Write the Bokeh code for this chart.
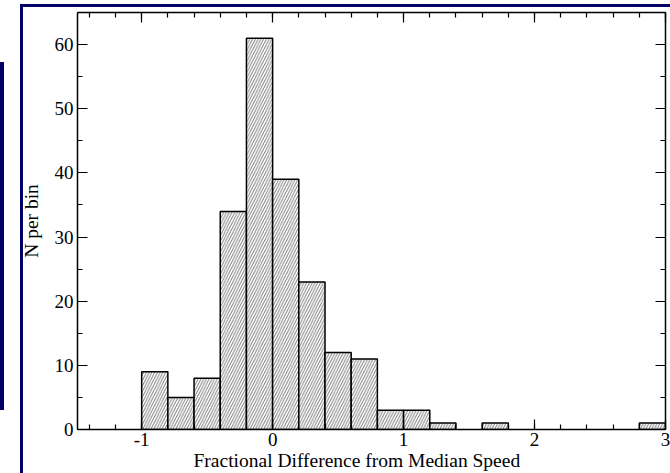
from bokeh.plotting import figure
from bokeh.models import FixedTicker, LinearAxis, Range1d, Title
from bokeh.embed import file_html
from bokeh.resources import INLINE

bin_left = [-1.0, -0.8, -0.6, -0.4, -0.2, 0.0, 0.2, 0.4, 0.6, 0.8, 1.0, 1.2, 1.6, 2.8]
counts = [9, 5, 8, 34, 61, 39, 23, 12, 11, 3, 3, 1, 1, 1]
bin_width = 0.2
x_ticks = [-1, 0, 1, 2, 3]
y_ticks = [0, 10, 20, 30, 40, 50, 60]
x_label = "Fractional Difference from Median Speed"
y_label = "N per bin"

FONT = "Liberation Serif"
NAVY = "#000066"

p = figure(width=670, height=473, output_backend="svg", toolbar_location=None,
           x_range=Range1d(-1.49, 3.0), y_range=Range1d(0, 65),
           min_border_left=77, min_border_right=5, min_border_top=12, min_border_bottom=44)
p.xaxis.visible = False
p.yaxis.visible = False
p.grid.visible = False
p.outline_line_color = None
p.background_fill_color = "white"
p.border_fill_alpha = 0
g = "linear-gradient(%s,%s)" % (NAVY, NAVY)
p.styles = {
    "background": (g + " 0px 62px / 4px 348px no-repeat, "
                   + g + " 20px 4px / 3px 469px no-repeat, "
                   + g + " 20px 4px / 650px 3px no-repeat, white"),
}

p.quad(left=bin_left, right=[b + bin_width for b in bin_left], top=counts, bottom=0,
       fill_color="white", line_color="black", line_width=1.5,
       hatch_pattern="/", hatch_color="#666666", hatch_scale=5.5, hatch_weight=0.9)

xminor = [round(-1.4 + 0.2 * i, 2) for i in range(23)]
yminor = [5 * i for i in range(14)]

def style(ax, labels=True):
    ax.axis_line_color = "black"
    ax.axis_line_width = 1.5
    ax.major_tick_line_color = "black"
    ax.minor_tick_line_color = "black"
    ax.major_tick_line_width = 1.2
    ax.minor_tick_line_width = 1.2
    ax.major_tick_in = 10
    ax.major_tick_out = 0
    ax.minor_tick_in = 5
    ax.minor_tick_out = 0
    ax.major_label_text_font = FONT
    ax.major_label_text_font_size = "19px"
    ax.major_label_text_color = "black"
    ax.major_label_standoff = 4
    if not labels:
        ax.major_label_text_font_size = "0px"
        ax.major_label_text_alpha = 0

bx = LinearAxis(ticker=FixedTicker(ticks=x_ticks, minor_ticks=xminor),
                major_label_overrides={-1: "-1"})
style(bx)
bx.major_label_standoff = 3
p.add_layout(bx, "below")
tx = LinearAxis(ticker=FixedTicker(ticks=x_ticks, minor_ticks=xminor))
style(tx, labels=False)
p.add_layout(tx, "above")
ly = LinearAxis(ticker=FixedTicker(ticks=y_ticks, minor_ticks=yminor), axis_label=y_label)
style(ly)
ly.axis_label_text_font = FONT
ly.axis_label_text_font_size = "19.5px"
ly.axis_label_text_font_style = "normal"
ly.axis_label_text_color = "black"
ly.axis_label_standoff = 10
p.add_layout(ly, "left")
ry = LinearAxis(ticker=FixedTicker(ticks=y_ticks, minor_ticks=yminor))
style(ry, labels=False)
p.add_layout(ry, "right")

p.add_layout(Title(text=x_label, align="left", offset=116, standoff=-2,
                   text_font=FONT, text_font_size="19.5px", text_font_style="normal",
                   text_color="black"), "below")

open("out.html", "w").write(file_html(p, INLINE))
